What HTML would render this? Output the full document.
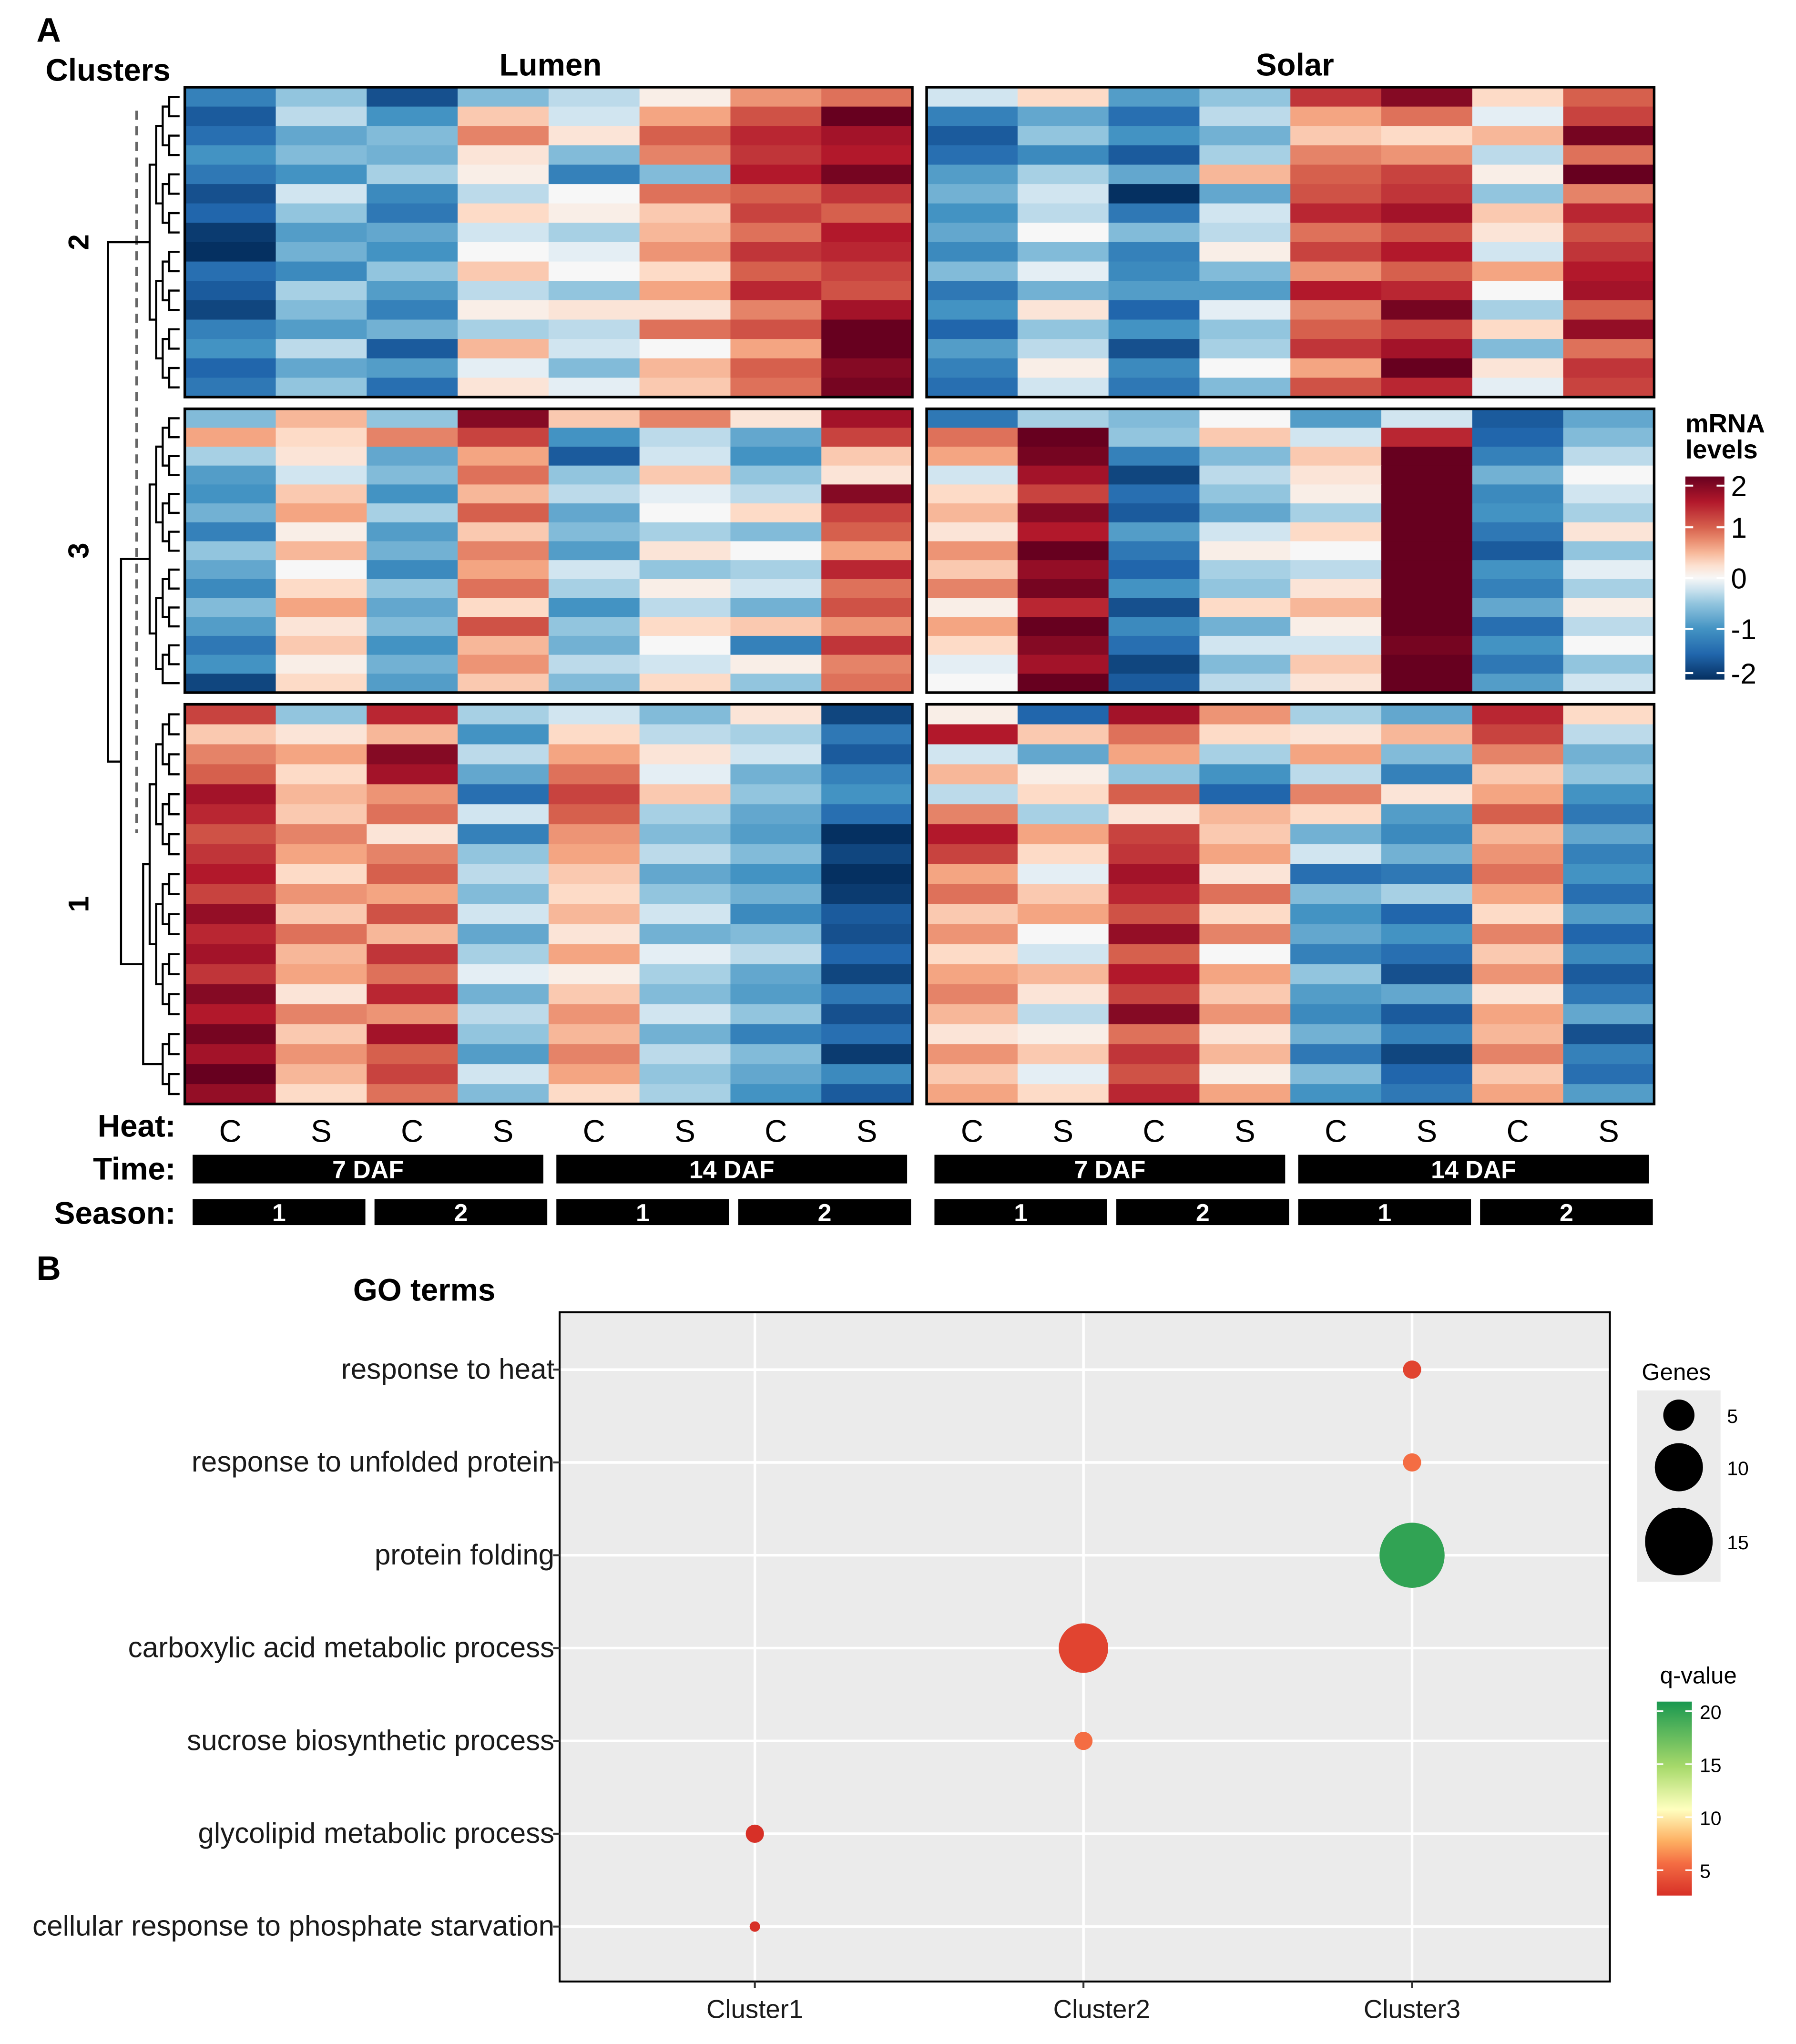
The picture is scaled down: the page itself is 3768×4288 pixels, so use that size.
<!DOCTYPE html>
<html><head><meta charset="utf-8"><style>
html,body{margin:0;padding:0;background:#fff;}
svg{display:block;font-family:"Liberation Sans",Arial,sans-serif;}
</style></head><body>
<svg id="fig" width="3768" height="4288" viewBox="0 0 1380 1570" preserveAspectRatio="none" xmlns="http://www.w3.org/2000/svg">
<rect width="1380" height="1570" fill="#fff"/>
<g id="heat"></g>
<g id="dot"></g>
</svg>
<script>
// ---- heatmap data (8 lumen cols then 8 solar cols per row) ----
const clusterOrder = ["2","3","1"];
const cluster2 = [
[-1.2,-0.5,-1.7,-0.6,-0.3,0.1,0.7,0.9, -0.2,0.3,-0.9,-0.5,1.3,1.8,0.3,1.0],
[-1.6,-0.3,-1.0,0.4,-0.2,0.6,1.1,2.0, -1.2,-0.8,-1.4,-0.3,0.6,0.9,-0.1,1.2],
[-1.4,-0.8,-0.6,0.8,0.2,1.0,1.4,1.6, -1.6,-0.5,-1.0,-0.7,0.4,0.3,0.5,1.9],
[-1.0,-0.6,-0.7,0.2,-0.6,0.8,1.3,1.5, -1.4,-1.1,-1.6,-0.4,0.8,0.7,-0.3,0.9],
[-1.3,-1.0,-0.4,0.1,-1.2,-0.6,1.5,1.9, -0.9,-0.4,-0.8,0.5,1.0,1.2,0.1,2.0],
[-1.7,-0.2,-1.1,-0.3,0.0,0.9,1.0,1.3, -0.7,-0.2,-2.0,-0.8,1.1,1.3,-0.5,0.8],
[-1.5,-0.5,-1.3,0.3,0.1,0.4,1.2,1.0, -1.0,-0.3,-1.3,-0.2,1.4,1.6,0.4,1.4],
[-1.9,-0.9,-0.8,-0.2,-0.4,0.5,0.9,1.5, -0.8,0.0,-0.6,-0.3,0.9,1.1,0.2,1.1],
[-2.0,-0.7,-1.0,0.0,-0.1,0.7,1.3,1.4, -1.1,-0.6,-1.2,0.1,1.2,1.5,-0.2,1.3],
[-1.4,-1.1,-0.5,0.4,0.0,0.3,1.0,1.2, -0.6,-0.1,-1.1,-0.6,0.7,1.0,0.6,1.5],
[-1.6,-0.4,-0.9,-0.3,-0.5,0.6,1.4,1.1, -1.3,-0.7,-0.9,-0.9,1.5,1.4,0.0,1.6],
[-1.8,-0.6,-1.2,0.1,0.2,0.2,0.8,1.6, -1.0,0.2,-1.5,-0.1,0.8,1.9,-0.4,1.0],
[-1.2,-0.9,-0.7,-0.4,-0.3,0.9,1.1,2.1, -1.5,-0.5,-1.0,-0.5,1.0,1.2,0.3,1.7],
[-1.0,-0.3,-1.6,0.5,-0.2,0.0,0.6,2.2, -0.9,-0.3,-1.7,-0.4,1.3,1.6,-0.6,0.9],
[-1.5,-0.8,-0.9,-0.1,-0.6,0.5,1.0,1.8, -1.2,0.1,-1.1,0.0,0.6,2.0,0.2,1.3],
[-1.3,-0.5,-1.4,0.2,-0.1,0.4,0.9,1.9, -1.4,-0.2,-1.3,-0.6,1.1,1.4,-0.1,1.2]];
const cluster3 = [
[-0.6,0.5,-0.5,1.8,0.4,0.8,0.2,1.6, -1.3,-0.4,-0.6,0.0,-0.9,-0.2,-1.6,-0.8],
[0.6,0.3,0.8,1.2,-1.0,-0.3,-0.8,1.2, 0.9,2.0,-0.5,0.4,-0.2,1.4,-1.5,-0.6],
[-0.4,0.2,-0.8,0.6,-1.6,-0.2,-1.0,0.4, 0.6,1.9,-1.2,-0.6,0.4,2.0,-1.2,-0.3],
[-0.9,-0.2,-0.6,0.9,-0.5,0.4,-0.5,0.2, -0.2,1.6,-1.8,-0.3,0.2,2.0,-0.7,0.0],
[-1.0,0.4,-1.0,0.5,-0.3,-0.1,-0.3,1.8, 0.3,1.2,-1.4,-0.5,0.1,2.0,-1.1,-0.2],
[-0.7,0.6,-0.4,1.0,-0.8,0.0,0.3,1.2, 0.5,1.8,-1.6,-0.8,-0.4,2.1,-1.0,-0.4],
[-1.2,0.1,-0.9,0.4,-0.6,-0.4,-0.6,1.0, 0.2,1.5,-0.9,-0.2,0.3,2.1,-1.3,0.2],
[-0.5,0.5,-0.7,0.8,-0.9,0.2,0.0,0.6, 0.7,2.0,-1.3,0.1,0.0,2.1,-1.6,-0.5],
[-0.8,0.0,-1.1,0.6,-0.2,-0.5,-0.4,1.4, 0.4,1.7,-1.5,-0.4,-0.3,2.0,-1.0,-0.1],
[-1.1,0.3,-0.5,0.9,-0.4,0.1,-0.2,0.9, 0.8,1.9,-1.0,-0.5,0.2,2.1,-1.2,-0.4],
[-0.6,0.6,-0.8,0.3,-1.0,-0.3,-0.7,1.1, 0.1,1.4,-1.7,0.3,0.5,2.0,-0.8,0.1],
[-0.9,0.2,-0.6,1.1,-0.5,0.3,0.4,0.7, 0.6,2.0,-1.1,-0.7,0.1,2.1,-1.4,-0.3],
[-1.3,0.4,-1.0,0.5,-0.7,0.0,-1.2,1.3, 0.3,1.8,-1.4,-0.2,-0.2,1.9,-1.0,0.0],
[-1.0,0.1,-0.7,0.7,-0.3,-0.2,0.1,0.8, -0.1,1.6,-1.8,-0.6,0.4,2.0,-1.3,-0.5],
[-1.8,0.3,-0.9,0.4,-0.6,0.3,-0.5,0.9, 0.0,2.0,-1.6,-0.3,0.2,2.1,-0.9,-0.2]];
const cluster1 = [
[1.2,-0.5,1.4,-0.4,-0.2,-0.6,0.2,-1.8, 0.1,-1.5,1.6,0.7,-0.4,-0.8,1.4,0.3],
[0.4,0.2,0.5,-1.0,0.3,-0.3,-0.4,-1.3, 1.5,0.4,0.9,0.3,0.2,0.5,1.2,-0.3],
[0.8,0.6,1.8,-0.3,0.6,0.2,-0.2,-1.6, -0.2,-0.8,0.6,-0.4,0.6,-0.6,0.8,-0.7],
[1.0,0.3,1.6,-0.8,0.9,-0.1,-0.7,-1.2, 0.5,0.1,-0.5,-1.0,-0.3,-1.2,0.4,-0.5],
[1.6,0.5,0.7,-1.4,1.2,0.4,-0.5,-1.0, -0.3,0.3,1.0,-1.5,0.8,0.2,0.6,-1.0],
[1.4,0.4,0.9,-0.2,1.0,-0.4,-0.8,-1.4, 0.8,-0.4,0.2,0.5,0.3,-0.9,1.0,-1.3],
[1.1,0.8,0.2,-1.2,0.7,-0.6,-0.9,-2.0, 1.5,0.6,1.2,0.4,-0.7,-1.1,0.5,-0.8],
[1.3,0.6,0.8,-0.5,0.6,-0.3,-0.6,-1.8, 1.2,0.3,1.3,0.6,-0.2,-0.7,0.7,-1.2],
[1.5,0.3,1.0,-0.3,0.4,-0.8,-1.0,-2.0, 0.6,-0.1,1.6,0.2,-1.4,-1.3,0.9,-1.0],
[1.2,0.7,0.6,-0.6,0.3,-0.5,-0.7,-1.9, 0.9,0.4,1.4,0.9,-0.6,-0.4,0.6,-1.4],
[1.7,0.4,1.1,-0.2,0.5,-0.2,-1.1,-1.6, 0.4,0.6,1.1,0.3,-1.0,-1.5,0.3,-0.9],
[1.4,0.9,0.5,-0.8,0.2,-0.7,-0.6,-1.7, 0.7,0.0,1.7,0.8,-0.8,-1.0,0.8,-1.5],
[1.6,0.5,1.3,-0.4,0.6,-0.1,-0.3,-1.5, 0.3,-0.2,1.0,0.0,-1.2,-1.4,0.4,-1.1],
[1.3,0.6,0.9,-0.1,0.1,-0.4,-0.8,-1.8, 0.6,0.5,1.5,0.6,-0.5,-1.7,0.7,-1.6],
[1.8,0.2,1.4,-0.7,0.4,-0.6,-0.9,-1.3, 0.8,0.2,1.2,0.4,-0.9,-0.8,0.2,-1.3],
[1.5,0.8,0.7,-0.3,0.7,-0.2,-0.5,-1.7, 0.5,-0.3,1.8,0.7,-1.1,-1.6,0.6,-0.8],
[1.9,0.4,1.6,-0.5,0.5,-0.7,-1.2,-1.4, 0.2,0.1,0.9,0.2,-0.7,-1.2,0.5,-1.7],
[1.6,0.7,1.0,-0.9,0.8,-0.3,-0.6,-1.9, 0.7,0.4,1.3,0.5,-1.3,-1.8,0.8,-1.2],
[2.0,0.5,1.2,-0.2,0.6,-0.5,-0.8,-1.1, 0.4,-0.1,1.1,0.1,-0.6,-1.5,0.4,-1.4],
[1.7,0.3,0.9,-0.6,0.3,-0.4,-1.0,-1.6, 0.6,0.3,1.4,0.6,-1.0,-1.3,0.6,-0.9]];
const heatLabels = ["C","S","C","S","C","S","C","S"];
const timeLabels = ["7 DAF","14 DAF"];
const seasonLabels = ["1","2","1","2"];
const legendTicks = [2,1,0,-1,-2];

// ---- dot plot data ----
const goTerms = ["response to heat","response to unfolded protein","protein folding","carboxylic acid metabolic process","sucrose biosynthetic process","glycolipid metabolic process","cellular response to phosphate starvation"];
const goCluster = [3,3,3,2,2,1,1];
const goGenes = [3,3,15,11,3,3,1];
const goQ = [4,6,20,4,6,3,3];
const clusterNames = ["Cluster1","Cluster2","Cluster3"];
const genesLegend = [5,10,15];
const qTicks = [20,15,10,5];

const NS="http://www.w3.org/2000/svg";
function mk(parent,tag,attrs,text){const e=document.createElementNS(NS,tag);for(const k in attrs)e.setAttribute(k,attrs[k]);if(text!==undefined)e.textContent=text;parent.appendChild(e);return e;}

const stops=[[-2,[5,48,97]],[-1.5,[33,102,172]],[-1,[67,147,195]],[-0.5,[146,197,222]],[-0.2,[209,229,240]],[0,[247,247,247]],[0.3,[253,219,199]],[0.6,[244,165,130]],[1,[214,96,77]],[1.5,[178,24,43]],[2,[103,0,31]]];
function rdbu(v){v=Math.max(-2,Math.min(2,v));for(let i=0;i<stops.length-1;i++){const a=stops[i],b=stops[i+1];if(v<=b[0]){const t=(v-a[0])/(b[0]-a[0]);const c=a[1].map((x,j)=>Math.round(x+(b[1][j]-x)*t));return `rgb(${c})`;}}return "rgb(103,0,31)";}

const H=document.getElementById('heat');
const panelX=[142,712], panelW=559;
const blocks=[{d:cluster2,y0:67,y1:305,lab:"2"},{d:cluster3,y0:314,y1:532,lab:"3"},{d:cluster1,y0:541,y1:848,lab:"1"}];
const colW=panelW/8;
let t;
t=mk(H,'text',{x:28,y:32,'font-size':26,'font-weight':'bold'},"A");

t=mk(H,'text',{x:35,y:62,'font-size':24,'font-weight':'bold'},"Clusters");

t=mk(H,'text',{x:423,y:58,'font-size':24,'font-weight':'bold','text-anchor':'middle'},"Lumen");

t=mk(H,'text',{x:995,y:58,'font-size':24,'font-weight':'bold','text-anchor':'middle'},"Solar");

mk(H,'line',{x1:105,y1:85,x2:105,y2:640,stroke:'#666','stroke-width':2,'stroke-dasharray':'7,5'});
const dend=mk(H,'g',{});

const mids=[];
blocks.forEach((b,bi)=>{
  const n=b.d.length, rh=(b.y1-b.y0)/n;
  for(let p=0;p<2;p++){
    const g=mk(H,'g',{});
    
    
    b.d.forEach((row,ri)=>{for(let c=0;c<8;c++){
      const r=mk(g,'rect',{x:panelX[p]+c*colW,y:b.y0+ri*rh,width:colW+0.4,height:rh+0.4,fill:rdbu(row[p*8+c])});
      
      
    }});
    mk(g,'rect',{x:panelX[p],y:b.y0,width:panelW,height:b.y1-b.y0,fill:'none',stroke:'#000','stroke-width':2});
  }
  const lbl=mk(H,'text',{x:0,y:0,'font-size':22,'font-weight':'bold','text-anchor':'middle',transform:`translate(68,${(b.y0+b.y1)/2}) rotate(-90)`},b.lab);
  
  const ys=[];for(let ri=0;ri<n;ri++)ys.push(b.y0+(ri+0.5)*rh);
  let level=ys.map(y=>({y:y,x:138}));let x=130;
  while(level.length>1){const nx=[];for(let i=0;i<level.length;i+=2){if(i+1<level.length){const a=level[i],c=level[i+1];
    mk(dend,'path',{d:`M${a.x},${a.y}H${x}V${c.y}H${c.x}`,fill:'none',stroke:'#000','stroke-width':1.6});nx.push({y:(a.y+c.y)/2,x:x});}else nx.push(level[i]);}
    level=nx;x-=5;}
  mids.push(level[0]);
});
const j1x=93, j0x=83;
mk(dend,'path',{d:`M${mids[1].x},${mids[1].y}H${j1x}V${mids[2].y}H${mids[2].x}`,fill:'none',stroke:'#000','stroke-width':1.6});
const m12=(mids[1].y+mids[2].y)/2;
mk(dend,'path',{d:`M${mids[0].x},${mids[0].y}H${j0x}V${m12}H${j1x}`,fill:'none',stroke:'#000','stroke-width':1.6});

t=mk(H,'text',{x:1295,y:332,'font-size':20,'font-weight':'bold'},"mRNA");

mk(H,'text',{x:1295,y:352,'font-size':20,'font-weight':'bold'},"levels");
const defs=mk(H,'defs',{});const lg=mk(defs,'linearGradient',{id:'rb',x1:0,y1:1,x2:0,y2:0});
for(let v=-2;v<=2.001;v+=0.25)mk(lg,'stop',{offset:((v+2)/4),'stop-color':rdbu(v)});
const cbY0=366,cbY1=522;
const cb=mk(H,'rect',{x:1295,y:cbY0,width:30,height:cbY1-cbY0,fill:'url(#rb)'});

legendTicks.forEach(v=>{const y=cbY1-(v+2)/4*(cbY1-cbY0)+ (v===2?7:v===-2?-5:0);
  mk(H,'line',{x1:1295,x2:1301,y1:y,y2:y,stroke:'#fff','stroke-width':1.5});
  mk(H,'line',{x1:1319,x2:1325,y1:y,y2:y,stroke:'#fff','stroke-width':1.5});
  const tt=mk(H,'text',{x:1330,y:y+8,'font-size':22},(v<0?'-':'')+Math.abs(v));
  
});

t=mk(H,'text',{x:135,y:873,'font-size':24,'font-weight':'bold','text-anchor':'end'},"Heat:");
t=mk(H,'text',{x:135,y:906,'font-size':24,'font-weight':'bold','text-anchor':'end'},"Time:");
t=mk(H,'text',{x:135,y:940,'font-size':24,'font-weight':'bold','text-anchor':'end'},"Season:");
for(let p=0;p<2;p++){
  heatLabels.forEach((l,c)=>{const e=mk(H,'text',{x:panelX[p]+(c+0.5)*colW,y:877,'font-size':24,'text-anchor':'middle'},l);
    });
  timeLabels.forEach((l,i)=>{const x0=panelX[p]+6+i*colW*4;
    const r=mk(H,'rect',{x:x0,y:887,width:colW*4-10,height:22,fill:'#000'});
    
    mk(H,'text',{x:x0+(colW*4-10)/2,y:905,'font-size':19,'font-weight':'bold',fill:'#fff','text-anchor':'middle'},l);});
  seasonLabels.forEach((l,i)=>{const x0=panelX[p]+6+i*colW*2;
    const r=mk(H,'rect',{x:x0,y:921,width:colW*2-7,height:20,fill:'#000'});
    
    mk(H,'text',{x:x0+(colW*2-7)/2,y:938,'font-size':19,'font-weight':'bold',fill:'#fff','text-anchor':'middle'},l);});
}

const D=document.getElementById('dot');
t=mk(D,'text',{x:28,y:983,'font-size':26,'font-weight':'bold'},"B");
t=mk(D,'text',{x:326,y:999,'font-size':24,'font-weight':'bold','text-anchor':'middle'},"GO terms");
const px0=430,px1=1237,py0=1008,py1=1522;
const bg=mk(D,'rect',{x:px0,y:py0,width:px1-px0,height:py1-py0,fill:'#ebebeb'});

const xScale=c=>580+(c-1)*252.5;
const yScale=i=>1052+i*71.3;
goTerms.forEach((g,i)=>mk(D,'line',{x1:px0,x2:px1,y1:yScale(i),y2:yScale(i),stroke:'#fff','stroke-width':2}));
clusterNames.forEach((c,i)=>mk(D,'line',{x1:xScale(i+1),x2:xScale(i+1),y1:py0,y2:py1,stroke:'#fff','stroke-width':2}));
mk(D,'rect',{x:px0,y:py0,width:px1-px0,height:py1-py0,fill:'none',stroke:'#000','stroke-width':1.5});
goTerms.forEach((g,i)=>{mk(D,'line',{x1:px0-5,x2:px0,y1:yScale(i),y2:yScale(i),stroke:'#333','stroke-width':1.5});
  const e=mk(D,'text',{x:px0-4,y:yScale(i)+7,'font-size':22,'text-anchor':'end',fill:'#1a1a1a'},g);
  });
clusterNames.forEach((c,i)=>{mk(D,'line',{x1:xScale(i+1),x2:xScale(i+1),y1:py1,y2:py1+5,stroke:'#333','stroke-width':1.5});
  const e=mk(D,'text',{x:xScale(i+1)+(i===1?14:0),y:1550,'font-size':20,'text-anchor':'middle',fill:'#1a1a1a'},c);
  });
const rScale=g=>1.5*g+2.5;
const qStops=[[3,[215,48,39]],[6,[244,109,67]],[8,[253,174,97]],[11,[255,255,191]],[15,[166,217,106]],[21,[26,152,80]]];
function qCol(q){q=Math.max(3,Math.min(21,q));for(let i=0;i<qStops.length-1;i++){const a=qStops[i],b=qStops[i+1];if(q<=b[0]){const t=(q-a[0])/(b[0]-a[0]);return `rgb(${a[1].map((x,j)=>Math.round(x+(b[1][j]-x)*t))})`;}}}
goTerms.forEach((g,i)=>{const c=mk(D,'circle',{cx:xScale(goCluster[i]),cy:yScale(i),r:rScale(goGenes[i]),fill:qCol(goQ[i])});
  });
t=mk(D,'text',{x:1288,y:1060,'font-size':18,'text-anchor':'middle'},"Genes");
mk(D,'rect',{x:1258,y:1068,width:64,height:147,fill:'#ebebeb'});
const gy=[1087,1127,1184];
genesLegend.forEach((g,i)=>{const c=mk(D,'circle',{cx:1290,cy:gy[i],r:rScale(g)+ (i===0?2:1),fill:'#000'});
  
  mk(D,'text',{x:1327,y:gy[i]+6,'font-size':15},g);});
t=mk(D,'text',{x:1305,y:1293,'font-size':18,'text-anchor':'middle'},"q-value");
const qg=mk(defs,'linearGradient',{id:'qg',x1:0,y1:1,x2:0,y2:0});
for(let q=3;q<=21;q+=1)mk(qg,'stop',{offset:(q-3)/18,'stop-color':qCol(q)});
const qb=mk(D,'rect',{x:1273,y:1307,width:27,height:149,fill:'url(#qg)'});

const qy=q=>1456-(q-2.6)/(20.9-2.6)*149;
qTicks.forEach(q=>{mk(D,'line',{x1:1273,x2:1278,y1:qy(q),y2:qy(q),stroke:'#fff','stroke-width':1.2});
  mk(D,'line',{x1:1295,x2:1300,y1:qy(q),y2:qy(q),stroke:'#fff','stroke-width':1.2});
  mk(D,'text',{x:1306,y:qy(q)+6,'font-size':15},q);});
</script>
</body></html>
